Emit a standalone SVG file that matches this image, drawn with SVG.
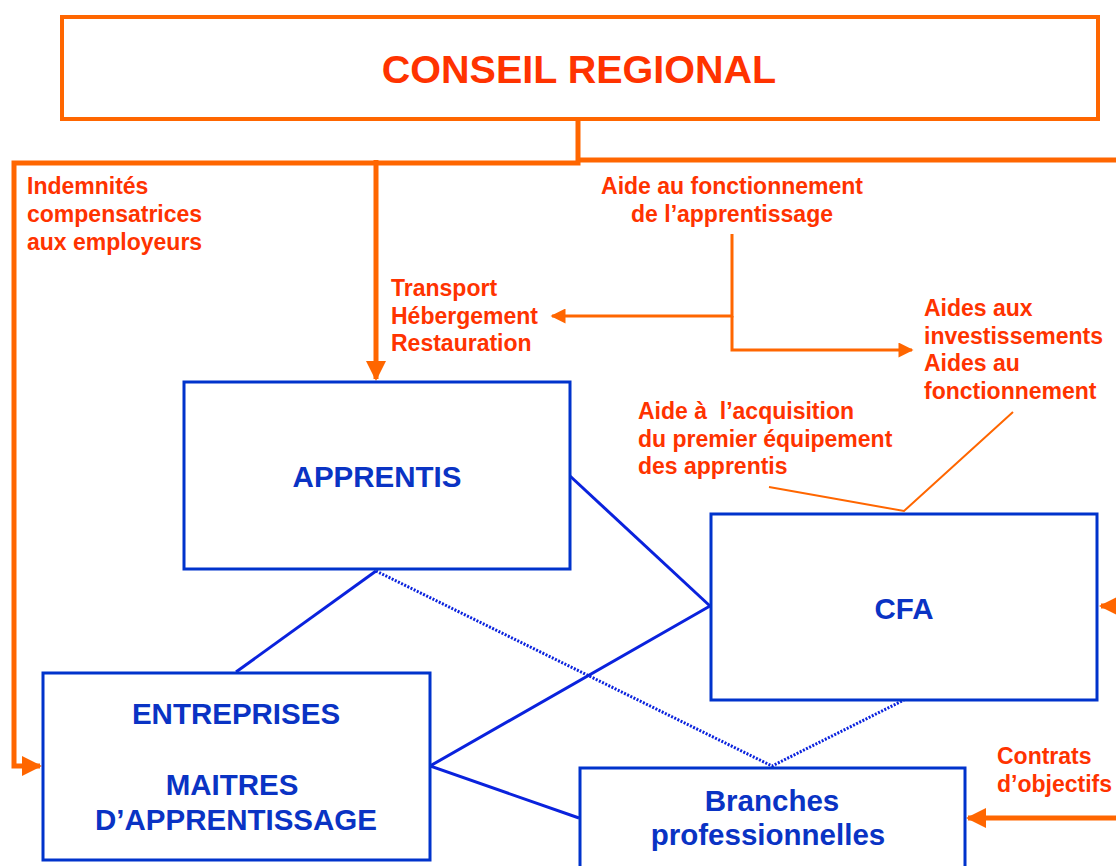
<svg xmlns="http://www.w3.org/2000/svg" width="1116" height="866" viewBox="0 0 1116 866">
<defs>
<style>
.box{fill:#fff;stroke:#0033CC;stroke-width:3}
.obox{fill:#fff;stroke:#FF6600;stroke-width:4}
.btxt{font-family:"Liberation Sans",Arial,sans-serif;font-weight:bold;font-size:29.5px;fill:#0A33C4;text-anchor:middle}
.lbl{font-family:"Liberation Sans",Arial,sans-serif;font-weight:bold;font-size:23px;fill:#FF3300}
.thick{stroke:#FF6600;stroke-width:5;fill:none}
.thin{stroke:#FF6600;stroke-width:3;fill:none}
.hair{stroke:#FF6600;stroke-width:2;fill:none}
.bl{stroke:#0A22DD;stroke-width:3;fill:none}
.dot{stroke:#0A22DD;stroke-width:3;fill:none;stroke-dasharray:2 1.5}
</style>
<marker id="ah" viewBox="0 0 10 10" refX="9" refY="5" markerWidth="4" markerHeight="4" orient="auto" markerUnits="strokeWidth"><path d="M0,0 L10,5 L0,10 z" fill="#FF6600"/></marker>
<marker id="ahs" viewBox="0 0 10 10" refX="9" refY="5" markerWidth="5.5" markerHeight="5" orient="auto" markerUnits="strokeWidth"><path d="M0,0 L10,5 L0,10 z" fill="#FF6600"/></marker>
</defs>
<g id="connectors">
<path class="thick" d="M578,119 V163 H14 V766 H40" marker-end="url(#ah)"/>
<path class="thick" d="M578,160 H1116"/>
<path class="thick" d="M376,160 V379" marker-end="url(#ah)"/>
<path class="thin" d="M732,234 V316 H552" marker-end="url(#ahs)"/>
<path class="thin" d="M732,316 V350 H912" marker-end="url(#ahs)"/>
<path class="hair" d="M769,487 L904,511 L1013,412"/>
<path class="thick" d="M1116,606 H1101" marker-end="url(#ah)"/>
<path class="thick" d="M1116,818 H968" marker-end="url(#ah)"/>
<path class="bl" d="M570,476 L710,606"/>
<path class="bl" d="M376,571 L236,672"/>
<path class="bl" d="M710,606 L430,766 L579,818"/>
<path class="dot" d="M376,571 L772,766 L904,700"/>
</g>
<g id="conseil">
<rect class="obox" x="62" y="17" width="1036" height="102"/>
<text x="579" y="83" font-family="Liberation Sans,Arial,sans-serif" font-weight="bold" font-size="39.5" fill="#FF3300" text-anchor="middle">CONSEIL REGIONAL</text>
</g>
<g id="apprentis">
<rect class="box" x="184" y="382" width="386" height="187"/>
<text class="btxt" x="377" y="487">APPRENTIS</text>
</g>
<g id="cfa">
<rect class="box" x="711" y="514" width="386" height="186"/>
<text class="btxt" x="904" y="619">CFA</text>
</g>
<g id="entreprises">
<rect class="box" x="43" y="673" width="387" height="187"/>
<text class="btxt" x="236" y="724">ENTREPRISES</text>
<text class="btxt" x="232" y="795">MAITRES</text>
<text class="btxt" x="236" y="830">D’APPRENTISSAGE</text>
</g>
<g id="branches">
<rect class="box" x="580" y="768" width="385" height="110"/>
<text class="btxt" x="772" y="811">Branches</text>
<text class="btxt" x="768" y="845">professionnelles</text>
</g>
<g id="labels">
<text class="lbl" x="27" y="194">Indemnités</text>
<text class="lbl" x="27" y="222">compensatrices</text>
<text class="lbl" x="27" y="250">aux employeurs</text>
<text class="lbl" x="732" y="194" text-anchor="middle">Aide au fonctionnement</text>
<text class="lbl" x="732" y="222" text-anchor="middle">de l’apprentissage</text>
<text class="lbl" x="391" y="296">Transport</text>
<text class="lbl" x="391" y="324">Hébergement</text>
<text class="lbl" x="391" y="351">Restauration</text>
<text class="lbl" x="924" y="316">Aides aux</text>
<text class="lbl" x="924" y="344">investissements</text>
<text class="lbl" x="924" y="371">Aides au</text>
<text class="lbl" x="924" y="399">fonctionnement</text>
<text class="lbl" x="638" y="419" xml:space="preserve">Aide à  l’acquisition</text>
<text class="lbl" x="638" y="447">du premier équipement</text>
<text class="lbl" x="638" y="474">des apprentis</text>
<text class="lbl" x="997" y="764">Contrats</text>
<text class="lbl" x="997" y="792">d’objectifs</text>
</g>
</svg>
